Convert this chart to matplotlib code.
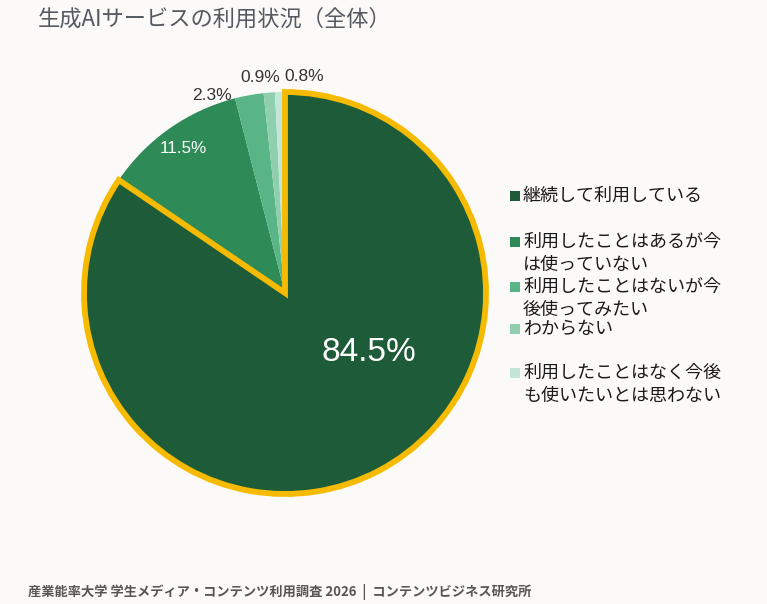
import matplotlib
matplotlib.use("Agg")
import matplotlib.pyplot as plt
import numpy as np
from matplotlib.patches import Rectangle

plt.rcParams['font.family'] = ['Noto Sans CJK JP', 'DejaVu Sans']

categories = ["継続して利用している",
              "利用したことはあるが今\nは使っていない",
              "利用したことはないが今\n後使ってみたい",
              "わからない",
              "利用したことはなく今後\nも使いたいとは思わない"]
values = [84.5, 11.5, 2.3, 0.9, 0.8]
labels = ["84.5%", "11.5%", "2.3%", "0.9%", "0.8%"]
colors = ["#1e5c39", "#2e8b58", "#5ab586", "#8fcfb0", "#c3e7d6"]
gold = "#f6bb00"
bg = "#fcfaf8"

W, H = 767, 604
fig = plt.figure(figsize=(W/100, H/100), dpi=100, facecolor=bg)
cx, cy, r = 285, 293, 201
ax = fig.add_axes([(cx - r)/W, (H - cy - r)/H, 2*r/W, 2*r/H])
ax.set_facecolor(bg)
wedges, _ = ax.pie(values, colors=colors, startangle=90, counterclock=False,
                   radius=1, wedgeprops=dict(linewidth=0))
wedges[0].set_edgecolor(gold)
wedges[0].set_linewidth(4.2)
wedges[0].set_joinstyle('miter')
wedges[0].set_zorder(5)
ax.set_xlim(-1, 1)
ax.set_ylim(-1, 1)
ax.axis('off')

theta = 90 - np.cumsum([0] + values[:-1]) * 3.6 - np.array(values) * 1.8
lab_specs = [(0.51, 26.7, "white", 24, 'center'),
             (0.88, 0.0, "white", 12.3, 'center'),
             (1.05, 10.0, "#333333", 12.5, 'center'),
             (1.08, 2.0, "#333333", 12.5, 'center'),
             (1.08, -6.4, "#333333", 12.5, 'center')]
for t, lab, (rr, off, col, fs, ha) in zip(theta, labels, lab_specs):
    a = np.deg2rad(t + off)
    ax.text(rr*np.cos(a), rr*np.sin(a), lab, color=col, fontsize=fs,
            ha=ha, va='center', family=['Liberation Sans', 'DejaVu Sans'], zorder=10)

leg_y = [196, 242, 287, 329, 373]
for yy, cat, col in zip(leg_y, categories, colors):
    fig.patches.append(Rectangle((510/W, (H - yy - 5)/H), 10/W, 10/H,
                                 transform=fig.transFigure, facecolor=col,
                                 edgecolor='none'))
    fig.text(523/W, (H - yy + 9)/H, cat, fontsize=13, color="#1a1a1a",
             ha='left', va='top', linespacing=1.38)

fig.text(38/W, (H - 19)/H, "生成AIサービスの利用状況（全体）", fontsize=16,
         color="#555a60", ha='left', va='center')
fig.text(28/W, (H - 592)/H,
         "産業能率大学 学生メディア・コンテンツ利用調査 2026  |  コンテンツビジネス研究所",
         fontsize=9.5, color="#555555", ha='left', va='center', fontweight='bold')

fig.savefig("out.png", dpi=100, facecolor=bg)
